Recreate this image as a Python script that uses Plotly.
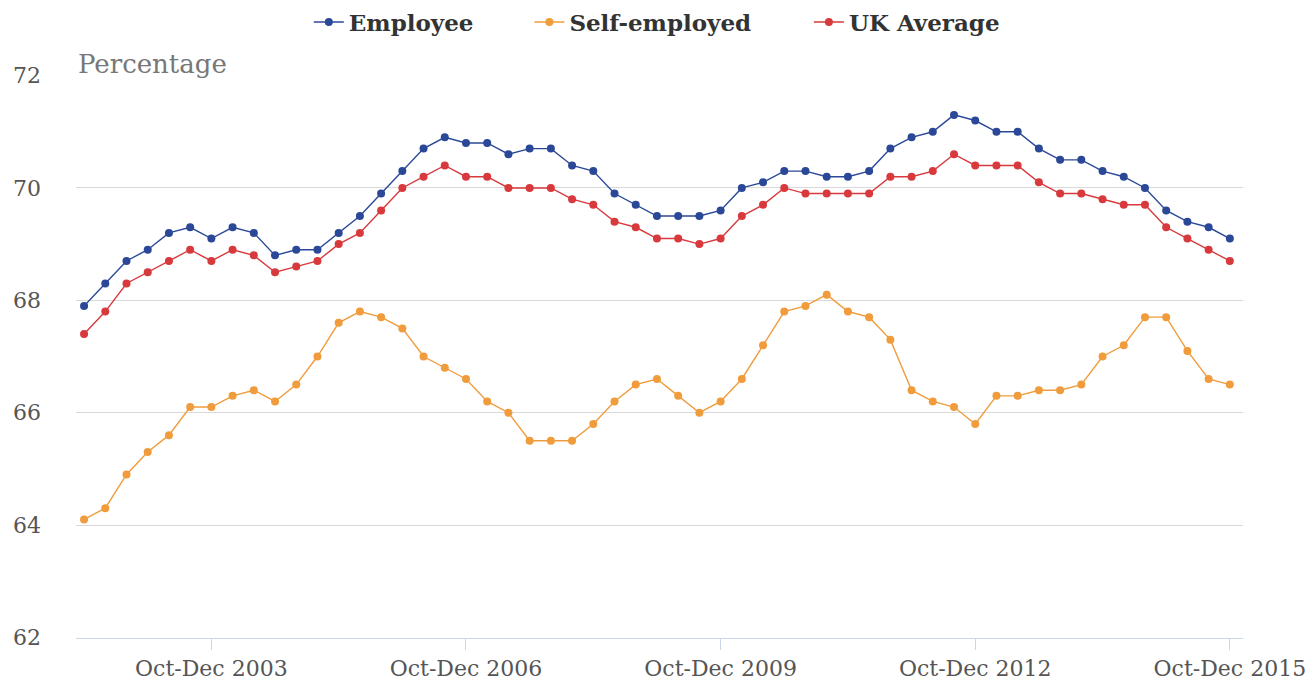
import plotly.graph_objects as go

# Quarterly periods, Apr-Jun 2002 through Oct-Dec 2015
quarter_names = ["Jan-Mar", "Apr-Jun", "Jul-Sep", "Oct-Dec"]
quarters = [f"{quarter_names[q]} {y}" for y in range(2002, 2016) for q in range(4)][1:]

employee = [67.9, 68.3, 68.7, 68.9, 69.2, 69.3, 69.1, 69.3, 69.2, 68.8,
            68.9, 68.9, 69.2, 69.5, 69.9, 70.3, 70.7, 70.9, 70.8, 70.8,
            70.6, 70.7, 70.7, 70.4, 70.3, 69.9, 69.7, 69.5, 69.5, 69.5,
            69.6, 70.0, 70.1, 70.3, 70.3, 70.2, 70.2, 70.3, 70.7, 70.9,
            71.0, 71.3, 71.2, 71.0, 71.0, 70.7, 70.5, 70.5, 70.3, 70.2,
            70.0, 69.6, 69.4, 69.3, 69.1]

self_employed = [64.1, 64.3, 64.9, 65.3, 65.6, 66.1, 66.1, 66.3, 66.4, 66.2,
                 66.5, 67.0, 67.6, 67.8, 67.7, 67.5, 67.0, 66.8, 66.6, 66.2,
                 66.0, 65.5, 65.5, 65.5, 65.8, 66.2, 66.5, 66.6, 66.3, 66.0,
                 66.2, 66.6, 67.2, 67.8, 67.9, 68.1, 67.8, 67.7, 67.3, 66.4,
                 66.2, 66.1, 65.8, 66.3, 66.3, 66.4, 66.4, 66.5, 67.0, 67.2,
                 67.7, 67.7, 67.1, 66.6, 66.5]

uk_average = [67.4, 67.8, 68.3, 68.5, 68.7, 68.9, 68.7, 68.9, 68.8, 68.5,
              68.6, 68.7, 69.0, 69.2, 69.6, 70.0, 70.2, 70.4, 70.2, 70.2,
              70.0, 70.0, 70.0, 69.8, 69.7, 69.4, 69.3, 69.1, 69.1, 69.0,
              69.1, 69.5, 69.7, 70.0, 69.9, 69.9, 69.9, 69.9, 70.2, 70.2,
              70.3, 70.6, 70.4, 70.4, 70.4, 70.1, 69.9, 69.9, 69.8, 69.7,
              69.7, 69.3, 69.1, 68.9, 68.7]

x_ticks = ["Oct-Dec 2003", "Oct-Dec 2006", "Oct-Dec 2009", "Oct-Dec 2012", "Oct-Dec 2015"]
y_ticks = [62, 64, 66, 68, 70, 72]

# name, values, colour, legend id, legend left position (plot fraction)
series = [
    ("Employee", employee, "#2a4897", "legend", 0.1995),
    ("Self-employed", self_employed, "#f09c3c", "legend2", 0.3885),
    ("UK Average", uk_average, "#d8393d", "legend3", 0.628),
]

fig = go.Figure()
legend_font = dict(family="DejaVu Serif", size=23, color="#333333", weight="bold")
legends = {}
for name, values, color, leg, lx in series:
    fig.add_trace(go.Scatter(
        x=quarters, y=values, name=name, mode="lines+markers",
        line=dict(color=color, width=1.4),
        marker=dict(color=color, size=8),
        legend=leg,
    ))
    legends[leg] = dict(
        orientation="h", x=lx, xanchor="left", y=1 - 22 / 680, yanchor="middle",
        yref="container", font=legend_font, bgcolor="rgba(0,0,0,0)",
    )

fig.update_layout(
    width=1316, height=680,
    margin=dict(l=76, r=73, t=75, b=42),
    paper_bgcolor="white", plot_bgcolor="white",
    showlegend=True,
    **legends,
    xaxis=dict(
        type="category", categoryorder="array", categoryarray=quarters,
        range=[-0.38, 54.62], automargin=False,
        tickmode="array", tickvals=x_ticks, ticktext=x_ticks,
        showgrid=False, zeroline=False,
        showline=True, linecolor="#ccd6eb", linewidth=1,
        ticks="outside", ticklen=11, tickcolor="#ccd6eb",
        tickfont=dict(family="DejaVu Serif", size=22, color="#555555"),
    ),
    yaxis=dict(
        range=[61.99, 72.01], tickvals=y_ticks, automargin=False,
        showgrid=True, gridcolor="#d9d9d9", gridwidth=1,
        zeroline=False, showline=False,
        ticklabelstandoff=34,
        tickfont=dict(family="DejaVu Serif", size=22, color="#555555"),
    ),
    annotations=[dict(
        text="Percentage", xref="paper", yref="paper", x=0, y=1,
        xanchor="left", yanchor="bottom", yshift=-6, showarrow=False,
        font=dict(family="DejaVu Serif", size=26, color="#777777"),
    )],
)

fig.write_html("out.html")
